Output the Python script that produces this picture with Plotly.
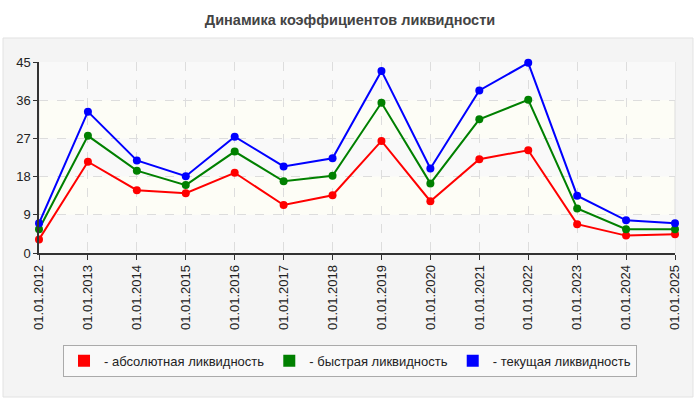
import plotly.graph_objects as go

dates = ['01.01.2012', '01.01.2013', '01.01.2014', '01.01.2015', '01.01.2016',
         '01.01.2017', '01.01.2018', '01.01.2019', '01.01.2020', '01.01.2021',
         '01.01.2022', '01.01.2023', '01.01.2024', '01.01.2025']

absolute = [3.2, 21.5, 14.8, 14.1, 18.9, 11.3, 13.6, 26.4, 12.2, 22.1, 24.2, 6.8, 4.1, 4.4]
quick = [5.6, 27.6, 19.4, 16.0, 23.9, 16.9, 18.2, 35.4, 16.4, 31.5, 36.1, 10.5, 5.6, 5.6]
current = [7.0, 33.3, 21.8, 18.1, 27.4, 20.4, 22.3, 42.9, 19.9, 38.3, 44.8, 13.5, 7.7, 7.0]

series = [('- абсолютная ликвидность', absolute, '#ff0000'),
          ('- быстрая ликвидность', quick, '#008000'),
          ('- текущая ликвидность', current, '#0000ff')]

font = 'Arial, Liberation Sans, sans-serif'

fig = go.Figure()

# lines with markers
for name, vals, color in series:
    fig.add_trace(go.Scatter(x=dates, y=vals, mode='lines+markers', showlegend=False,
                             line=dict(color=color, width=2), cliponaxis=False,
                             marker=dict(color=color, size=8)))

# empty bars only for the rectangular legend swatches
for name, vals, color in series:
    fig.add_trace(go.Bar(x=[None], y=[None], name=name, marker_color=color,
                         marker_line_width=0))

# grey panel behind the chart, then the plot area background bands
shapes = [dict(type='rect', xref='paper', yref='paper', x0=-0.0566, x1=1.0283,
               y0=-0.754, y1=1.1257, fillcolor='#f4f4f4',
               line=dict(color='#e2e2e2', width=1), layer='below'),
          dict(type='rect', xref='paper', yref='y', x0=0, x1=1, y0=0, y1=45,
               fillcolor='#fdfdf6', line=dict(color='#dddddd', width=1), layer='below')]
for lo in [0, 18, 36]:
    shapes.append(dict(type='rect', xref='paper', yref='y', x0=0, x1=1, y0=lo, y1=lo + 9,
                       fillcolor='#f9f9f9', line_width=0, layer='below'))

fig.update_layout(
    width=700, height=400,
    margin=dict(l=39, r=25, t=62, b=147, autoexpand=False),
    paper_bgcolor='white', plot_bgcolor='#fdfdf6',
    font=dict(family=font, size=12, color='#222222'),
    title=dict(text='<b>Динамика коэффициентов ликвидности</b>', x=0.5, xanchor='center',
               y=0.95, yanchor='middle', font=dict(size=14.5, color='#444444')),
    shapes=shapes,
    legend=dict(orientation='h', x=0.489, xanchor='center', y=-0.48, yanchor='top',
                bgcolor='#f9f9f9', bordercolor='#aaaaaa', borderwidth=1,
                font=dict(size=13, color='#222222'), itemclick=False),
    barmode='overlay',
)

fig.update_xaxes(type='category', range=[0, 13], showgrid=True, gridcolor='#dddddd',
                 griddash='dash', gridwidth=1, showline=True, linecolor='#333333',
                 linewidth=1.5, ticks='outside', ticklen=5, tickcolor='#333333',
                 tickangle=-90, tickfont=dict(size=13, color='#222222'))
fig.update_yaxes(range=[0, 45], tickvals=[0, 9, 18, 27, 36, 45], showgrid=True,
                 gridcolor='#dddddd', griddash='dash', gridwidth=1, showline=True,
                 linecolor='#333333', linewidth=1.5, ticks='outside', ticklen=4,
                 tickcolor='#333333', zeroline=False,
                 tickfont=dict(size=13, color='#222222'))

fig.write_html('out.html', config={'displayModeBar': False},
               post_script="document.body.style.margin='0';")
